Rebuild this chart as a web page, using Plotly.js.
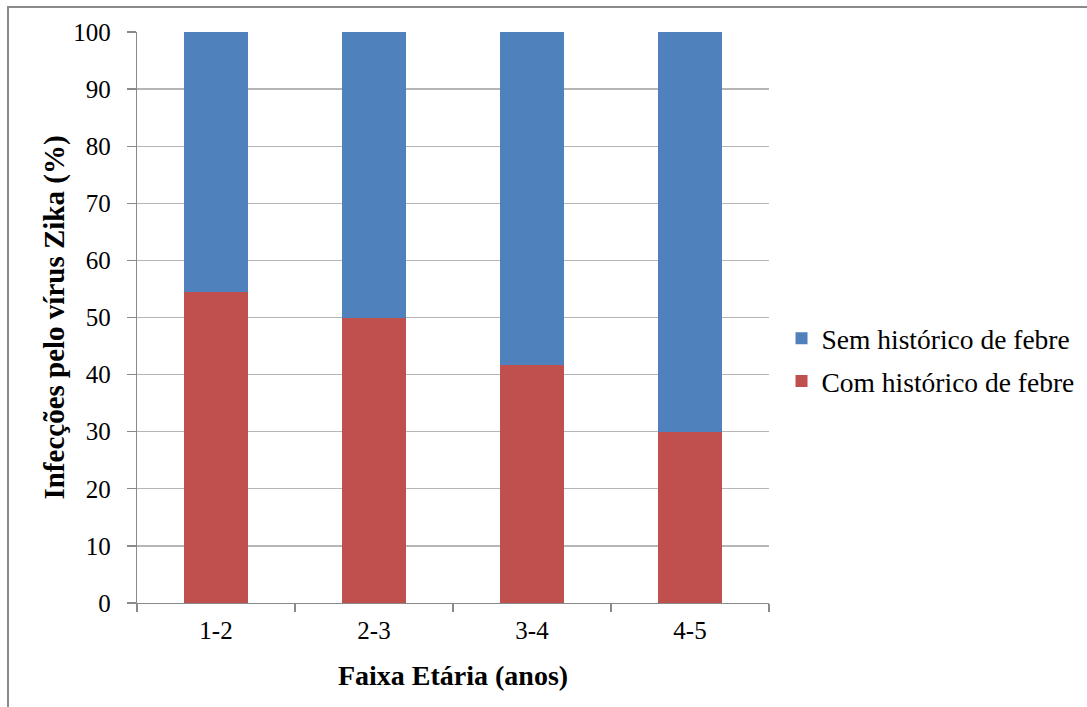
<!DOCTYPE html>
<html>
<head>
<meta charset="utf-8">
<script src="https://cdn.plot.ly/plotly-3.0.1.min.js"></script>
<style>
  html, body { margin: 0; padding: 0; background: #fff; }
  #wrap { position: relative; width: 1087px; height: 707px; overflow: hidden; }
  #chart { position: absolute; left: 0; top: 0; width: 1087px; height: 707px; }
  #frame { position: absolute; left: 7px; top: 6px; width: 1100px; height: 720px;
           border-left: 2px solid #8a8a8a; border-top: 2px solid #8a8a8a; pointer-events: none; }
</style>
</head>
<body>
<div id="wrap">
  <div id="chart"></div>
  <div id="frame"></div>
</div>
<script>
// Age groups (years)
const ageGroups = ['1-2', '2-3', '3-4', '4-5'];
// Share of Zika infections with a history of fever (%)
const withFever = [54.5, 50, 41.7, 30];
// Share of Zika infections without a history of fever (%)
const withoutFever = [45.5, 50, 58.3, 70];

const serif = 'Liberation Serif';

// "Com" is stacked first (bottom); legend lists "Sem" first via legendrank
const traces = [
  {
    type: 'bar', name: 'Com histórico de febre', legendgroup: 'com', legendrank: 2,
    x: ageGroups, y: withFever,
    marker: { color: '#C0504D' }
  },
  {
    type: 'bar', name: 'Sem histórico de febre', legendgroup: 'sem', legendrank: 1,
    x: ageGroups, y: withoutFever,
    marker: { color: '#4F81BD' }
  }
];

const layout = {
  width: 1087, height: 707,
  margin: { l: 136.5, r: 317.5, t: 32.3, b: 104.4, pad: 0, autoexpand: false },
  paper_bgcolor: '#fff', plot_bgcolor: '#fff',
  barmode: 'stack', bargap: 0.6,
  font: { family: serif, size: 25, color: '#000' },
  showlegend: true,
  legend: {
    x: 1.0198, y: 0.426, xanchor: 'left', yanchor: 'middle',
    traceorder: 'grouped', tracegroupgap: 4,
    font: { family: serif, size: 27.5, color: '#000' },
    bgcolor: 'rgba(0,0,0,0)', itemclick: false
  },
  xaxis: {
    type: 'category',
    showline: true, linecolor: '#8a8a8a', linewidth: 1.3,
    ticks: 'outside', tickson: 'boundaries', ticklen: 8, tickcolor: '#8a8a8a', tickwidth: 1.3,
    ticklabelstandoff: 5,
    tickfont: { family: serif, size: 25, color: '#000' },
    title: { text: '<b>Faixa Etária (anos)</b>', font: { family: serif, size: 28, color: '#000' }, standoff: 22 },
    showgrid: false, zeroline: false
  },
  yaxis: {
    range: [0, 100], dtick: 10,
    showline: true, linecolor: '#8a8a8a', linewidth: 1.3,
    ticks: 'outside', ticklen: 9, tickcolor: '#8a8a8a', tickwidth: 1.3,
    ticklabelstandoff: 11,
    tickfont: { family: serif, size: 25, color: '#000' },
    showgrid: true, gridcolor: '#b5b5b5', gridwidth: 1.3,
    zeroline: false,
    title: { text: '<b>Infecções pelo vírus Zika (%)</b>', font: { family: serif, size: 29, color: '#000' }, standoff: 0 }
  }
};

Plotly.newPlot('chart', traces, layout, { staticPlot: true, displayModeBar: false });
</script>
</body>
</html>
